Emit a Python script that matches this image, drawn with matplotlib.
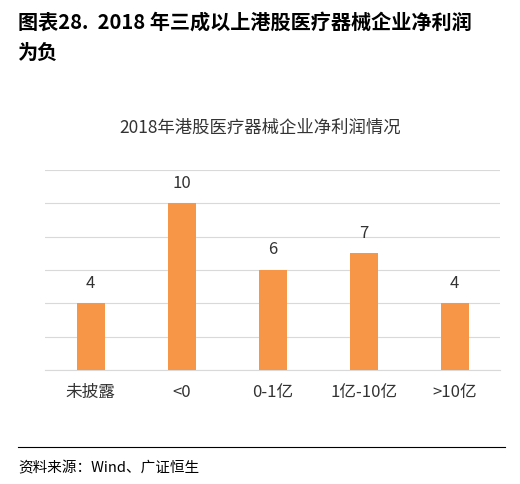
import matplotlib
matplotlib.use("Agg")
import matplotlib.pyplot as plt

plt.rcParams['font.family'] = ['Noto Sans CJK SC', 'DejaVu Sans']

categories = ["未披露", "<0", "0-1亿", "1亿-10亿", ">10亿"]
values = [4, 10, 6, 7, 4]

fig = plt.figure(figsize=(5.2, 4.84), dpi=100)
ax = fig.add_axes([0.087, 0.2355, 0.875, 0.413])
x = range(len(categories))
ax.bar(x, values, width=0.31, color="#F79646", zorder=3)
for i, v in zip(x, values):
    ax.text(i, v + 0.7, str(v), ha="center", va="bottom", fontsize=12, color="#333333")
ax.set_ylim(0, 12)
ax.set_xlim(-0.5, len(categories) - 0.5)
ax.set_yticks(range(0, 13, 2))
ax.yaxis.grid(True, color="#D9D9D9", linewidth=0.8, zorder=0)
ax.tick_params(axis="y", length=0, labelleft=False)
ax.tick_params(axis="x", length=0, labelsize=12, pad=10, colors="#333333")
ax.set_xticks(list(x))
ax.set_xticklabels(categories)
for s in ["top", "right", "left"]:
    ax.spines[s].set_visible(False)
ax.spines["bottom"].set_color("#D9D9D9")

fig.text(0.5, 1 - 128/484, "2018年港股医疗器械企业净利润情况", ha="center", va="center", fontsize=12.5, color="#333333")
fig.text(18/520, 1 - 22/484, "图表28.  2018 年三成以上港股医疗器械企业净利润", ha="left", va="center", fontsize=14.5, fontweight="bold")
fig.text(18/520, 1 - 52/484, "为负", ha="left", va="center", fontsize=14.5, fontweight="bold")
fig.add_artist(plt.Line2D([18/520, 505/520], [1 - 447/484]*2, color="black", linewidth=0.8))
fig.text(18/520, 1 - 468/484, "资料来源：Wind、广证恒生", ha="left", va="center", fontsize=10.5)
fig.savefig("out.png", dpi=100)
